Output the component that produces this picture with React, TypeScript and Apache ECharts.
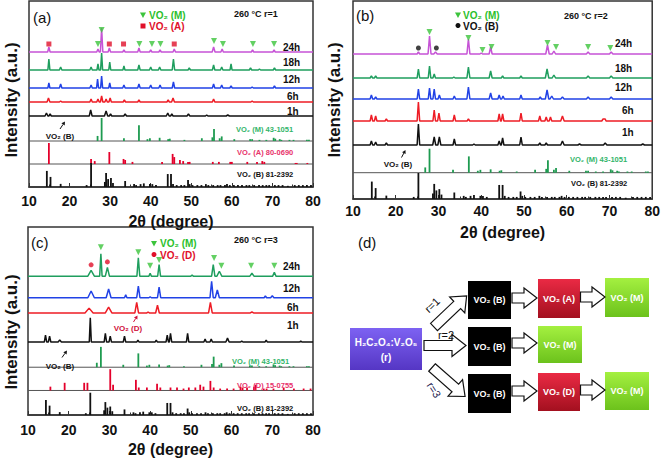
import React, { useEffect, useRef } from "react";
import * as echarts from "echarts";

type Peak = [number, number, number]; // [2θ, height, half-width]
type Stick = [number, number]; // [2θ, relative intensity %]

const X_MIN = 10;
const X_MAX = 80;
const X_STEP = 10;

// ---------- Panel (a): 260 °C r=1 ----------
const A_24H: Peak[] = [[14.9,5,0.3],[27.0,3,0.3],[27.9,24,0.3],[29.8,4,0.3],[33.4,2,0.3],[37.1,4,0.3],[40.0,2,0.3],[42.3,2,0.3],[45.8,3,0.3],[55.5,5,0.35],[57.6,3,0.3],[65.1,2,0.3],[70.4,2,0.3]];
const A_18H: Peak[] = [[14.9,11,0.25],[17.8,3,0.3],[25.3,3,0.3],[27.0,6,0.25],[27.9,17,0.25],[29.9,8,0.25],[33.4,4,0.25],[37.1,5,0.3],[40.0,3,0.3],[42.2,3,0.3],[45.6,11,0.3],[49.5,2,0.3],[55.5,5,0.3],[57.5,3,0.3],[59.8,6,0.25],[64.6,2,0.3],[66.8,1,0.3],[70.5,2,0.3]];
const A_12H: Peak[] = [[14.9,5,0.25],[17.8,4,0.3],[25.3,3,0.3],[26.9,9,0.25],[27.9,12,0.25],[29.9,5,0.25],[33.4,3,0.3],[37.1,4,0.3],[40.0,3,0.3],[42.3,3,0.3],[45.6,6,0.3],[55.5,4,0.3],[57.5,3,0.3],[59.8,2,0.3],[65.0,1,0.3],[70.5,2,0.3]];
const A_6H: Peak[] = [[14.8,4,0.35],[17.8,1,0.3],[25.3,3,0.3],[27.0,3,0.3],[27.9,6,0.3],[29.0,3,0.3],[30.0,4,0.3],[33.5,2,0.3],[37.1,2,0.3],[44.3,2,0.3],[45.5,4,0.35],[55.5,3,0.3],[65.0,1,0.3]];
const A_1H: Peak[] = [[14.3,3,0.35],[15.2,2,0.3],[25.2,6,0.35],[29.0,5,0.4],[30.1,2,0.3],[33.7,2,0.35],[44.2,3,0.35],[45.2,2,0.3],[49.3,2,0.35],[53.8,1,0.3],[59.0,1,0.4]];
const A_MARK_M: number[][] = [[27.0,143],[27.9,157],[37.2,143],[40.3,143],[42.4,143],[55.6,146],[57.8,143],[65.2,143],[70.4,143]];
const A_MARK_A: number[][] = [[14.9,143],[29.8,143],[33.3,143],[45.8,143]];

// ---------- Panel (b): 260 °C r=2 ----------
const B_24H: Peak[] = [[25.3,2,0.3],[27.9,18,0.35],[29.3,2,0.4],[37.0,15,0.35],[40.0,1,0.3],[42.2,7,0.35],[55.5,9,0.4],[57.0,3,0.4],[65.0,2,0.4],[70.4,2,0.4]];
const B_18H: Peak[] = [[14.3,2,0.3],[15.3,2,0.3],[25.3,9,0.3],[27.9,12,0.3],[29.0,4,0.3],[33.6,1,0.3],[37.0,11,0.35],[42.2,7,0.35],[45.0,2,0.3],[49.3,2,0.3],[55.4,9,0.4],[57.0,3,0.4],[65.0,2,0.4],[70.4,2,0.4]];
const B_12H: Peak[] = [[14.3,4,0.3],[15.3,2,0.3],[25.3,10,0.3],[27.9,11,0.3],[29.0,10,0.3],[30.2,4,0.3],[33.7,3,0.3],[37.0,12,0.35],[42.2,6,0.35],[44.2,4,0.3],[45.1,3,0.3],[49.3,4,0.3],[53.8,2,0.3],[55.4,9,0.4],[56.5,3,0.4],[59.0,2,0.4],[65.0,2,0.4],[70.4,2,0.4]];
const B_6H: Peak[] = [[14.3,6,0.3],[15.3,5,0.3],[17.8,2,0.3],[25.3,19,0.3],[29.0,11,0.3],[30.1,8,0.3],[33.7,6,0.3],[37.0,2,0.3],[44.2,7,0.3],[45.0,7,0.3],[49.3,8,0.3],[53.7,5,0.3],[55.2,4,0.3],[56.2,4,0.3],[59.0,5,0.4],[68.5,2,0.3],[69.0,2,0.2]];
const B_1H: Peak[] = [[14.3,4,0.3],[15.3,3,0.3],[17.8,2,0.3],[25.3,21,0.3],[29.0,8,0.35],[30.2,8,0.35],[33.7,6,0.3],[38.3,1,0.3],[44.2,4,0.3],[45.0,7,0.3],[49.3,8,0.3],[53.7,2,0.3],[55.2,2,0.3],[59.0,4,0.4],[63.0,1,0.4],[69.0,2,0.4],[77.8,1,0.4]];
const B_MARK_M: number[][] = [[27.9,167],[37.0,161],[40.3,149],[42.4,152],[55.5,156],[57.5,152],[65.0,152],[70.2,151]];
const B_MARK_B: number[][] = [[25.3,151],[29.5,151]];

// ---------- Panel (c): 260 °C r=3 ----------
const C_24H: Peak[] = [[25.5,6,0.8],[27.9,23,0.3],[29.5,9,0.5],[37.1,19,0.35],[40.0,3,0.3],[42.2,12,0.35],[50.3,1,0.3],[55.5,12,0.4],[57.0,5,0.6],[65.0,3,0.5],[70.5,4,0.4]];
const C_12H: Peak[] = [[25.5,7,0.8],[29.8,9,0.6],[34.0,3,0.3],[37.1,12,0.4],[40.0,1,0.3],[42.2,11,0.4],[55.1,17,0.4],[56.5,8,0.5],[68.3,2,0.3],[70.0,2,0.4]];
const C_6H: Peak[] = [[25.0,5,1.0],[29.8,6,0.8],[36.7,11,0.45],[39.5,1,0.3],[41.8,8,0.45],[54.8,11,0.45],[65.0,1,0.4]];
const C_1H: Peak[] = [[14.3,7,0.3],[15.3,6,0.3],[17.8,2,0.4],[25.3,25,0.25],[29.0,9,0.3],[30.2,6,0.3],[33.7,6,0.3],[37.0,2,0.3],[41.5,2,0.3],[44.2,7,0.3],[45.0,9,0.3],[49.2,9,0.3],[53.5,3,0.3],[55.0,3,0.3],[59.0,4,0.4],[62.5,1,0.3],[68.5,2,0.3],[77.0,1,0.3]];
const C_MARK_M: number[][] = [[27.9,173],[37.1,168],[40.0,154],[42.2,160],[55.7,162],[57.5,154],[64.8,154],[70.5,154]];
const C_MARK_D: number[][] = [[25.5,155],[29.5,158]];

// ---------- Reference cards ----------
const M_CARD: Stick[] = [[26.9,22],[27.9,100],[33.4,12],[37.1,68],[39.2,8],[39.8,12],[42.2,14],[44.3,8],[44.7,10],[48.3,5],[52.6,12],[55.2,16],[55.6,52],[57.0,12],[57.5,20],[60.6,8],[64.5,8],[65.0,8],[66.8,5],[68.5,5],[70.3,14],[70.7,10],[71.8,8],[72.2,5],[74.2,5],[75.2,5],[78.5,5],[79.0,5]];
const A_CARD: Stick[] = [[14.9,100],[25.3,24],[26.2,14],[29.8,57],[33.3,24],[33.7,19],[35.5,10],[42.8,10],[45.4,48],[45.8,33],[47.2,19],[48.0,14],[49.2,10],[49.6,10],[55.3,10],[56.8,10],[59.6,10],[60.0,10],[63.8,10],[66.2,10],[67.5,14],[68.0,10],[75.7,5],[76.0,5],[78.6,5]];
const B_CARD: Stick[] = [[14.4,67],[15.3,42],[17.8,13],[24.2,8],[25.3,100],[28.7,21],[29.0,58],[29.5,33],[30.2,38],[30.7,17],[33.7,25],[35.9,12],[36.4,8],[37.5,12],[38.3,15],[39.8,12],[40.4,12],[41.3,8],[44.2,54],[45.0,54],[45.5,12],[46.4,8],[47.5,8],[48.3,8],[49.2,29],[49.6,12],[50.3,8],[51.5,8],[52.5,8],[53.6,12],[54.2,8],[55.4,8],[56.5,8],[57.2,8],[58.3,8],[58.8,12],[59.5,8],[60.5,8],[61.5,8],[62.5,8],[63.6,8],[64.3,8],[65.5,8],[66.7,8],[67.6,8],[68.5,8],[69.2,8],[70.6,8],[71.5,8],[72.5,8],[73.8,5],[75.5,8],[76.5,8],[77.5,8],[78.5,8],[79.5,8]];
const D_CARD: Stick[] = [[15.5,18],[19.0,36],[23.8,36],[24.6,36],[30.2,100],[30.9,27],[36.5,50],[37.2,14],[39.2,14],[41.7,32],[42.5,14],[45.0,14],[46.6,14],[48.2,9],[49.5,14],[51.1,14],[52.3,27],[53.1,18],[54.8,45],[55.6,14],[57.2,9],[58.9,9],[60.5,9],[62.2,18],[62.7,14],[63.8,14],[65.5,18],[65.9,27],[67.9,9],[68.6,9],[70.3,9],[72.8,14],[75.3,9],[77.7,9],[79.4,9]];

// ---------- styles ----------
const FONT = "Liberation Sans, Arial, sans-serif";
const C_MAG = "#c653d6";
const C_GRN = "#1f9e5e";
const C_BLU = "#2142e6";
const C_RED = "#ee1c25";
const C_BLK = "#111111";
const REF_GREEN = "#1e9b50";
const REF_RED = "#e4002b";
const TRI_GREEN = "#3cc43c";
const LEG_GREEN = "#2cbf2c";
const LEG_RED = "#e0102a";
const LBL_GREEN = "#33b56a";
const LBL_RED = "#e8336b";

function profile(peaks: Peak[], base: number): number[][] {
  const pts: number[][] = [[X_MIN, base]];
  const s = [...peaks].sort((p, q) => p[0] - q[0]);
  let joined = false;
  s.forEach((pk, i) => {
    const [pos, h, w] = pk;
    const last = pts[pts.length - 1][0];
    if (!joined && pos - w > last) pts.push([pos - w, base]);
    pts.push([pos, base + h]);
    const nx = s[i + 1];
    if (!nx || pos + w < nx[0] - nx[2]) {
      pts.push([pos + w, base]);
      joined = false;
    } else joined = true;
  });
  pts.push([X_MAX, base]);
  return pts;
}

type PanelCfg = {
  grid: { left: number; top: number; width: number; height: number };
  patterns: { peaks: Peak[]; base: number; color: string }[];
  cards: { card: Stick[]; base: number; scale: number; color: string }[];
  markers: { data: number[][]; symbol: string; rotate: number; size: number; color: string }[];
  nameGap: number;
  labelMargin: number;
};

const PANELS: PanelCfg[] = [
  {
    grid: { left: 29, top: 1, width: 284, height: 186 },
    patterns: [
      { peaks: A_24H, base: 135, color: C_MAG },
      { peaks: A_18H, base: 117, color: C_GRN },
      { peaks: A_12H, base: 99, color: C_BLU },
      { peaks: A_6H, base: 85, color: C_RED },
      { peaks: A_1H, base: 71, color: C_BLK },
    ],
    cards: [
      { card: M_CARD, base: 46, scale: 23, color: REF_GREEN },
      { card: A_CARD, base: 23, scale: 21, color: REF_RED },
      { card: B_CARD, base: 0, scale: 24, color: C_BLK },
    ],
    markers: [
      { data: A_MARK_M, symbol: "triangle", rotate: 180, size: 6, color: TRI_GREEN },
      { data: A_MARK_A, symbol: "rect", rotate: 0, size: 5, color: LEG_RED },
    ],
    nameGap: 26,
    labelMargin: 7,
  },
  {
    grid: { left: 353, top: 1, width: 301, height: 198 },
    patterns: [
      { peaks: B_24H, base: 145, color: C_MAG },
      { peaks: B_18H, base: 121, color: C_GRN },
      { peaks: B_12H, base: 100, color: C_BLU },
      { peaks: B_6H, base: 78, color: C_RED },
      { peaks: B_1H, base: 54, color: C_BLK },
    ],
    cards: [
      { card: M_CARD, base: 26.3, scale: 24, color: REF_GREEN },
      { card: B_CARD, base: 0, scale: 26, color: C_BLK },
    ],
    markers: [
      { data: B_MARK_M, symbol: "triangle", rotate: 180, size: 6, color: TRI_GREEN },
      { data: B_MARK_B, symbol: "circle", rotate: 0, size: 5, color: C_BLK },
    ],
    nameGap: 25,
    labelMargin: 5,
  },
  {
    grid: { left: 28, top: 227, width: 285, height: 194 },
    patterns: [
      { peaks: C_24H, base: 143.3, color: C_GRN },
      { peaks: C_12H, base: 121, color: C_BLU },
      { peaks: C_6H, base: 105.3, color: C_RED },
      { peaks: C_1H, base: 75.3, color: C_BLK },
    ],
    cards: [
      { card: M_CARD, base: 49.3, scale: 21, color: REF_GREEN },
      { card: D_CARD, base: 25.3, scale: 22, color: REF_RED },
      { card: B_CARD, base: 0, scale: 23, color: C_BLK },
    ],
    markers: [
      { data: C_MARK_M, symbol: "triangle", rotate: 180, size: 6, color: TRI_GREEN },
      { data: C_MARK_D, symbol: "circle", rotate: 0, size: 5, color: LEG_RED },
    ],
    nameGap: 26,
    labelMargin: 8,
  },
];

function txt(x: number, y: number, text: string, opt: any = {}): any {
  const size = opt.size ?? 9;
  const weight = opt.weight ?? "bold";
  const align = opt.align ?? "left";
  return {
    type: "text",
    x,
    y,
    rotation: opt.rotation ?? 0,
    z: 100,
    style: {
      text,
      fill: opt.color ?? "#111",
      font: `${weight} ${size}px ${FONT}`,
      align,
      verticalAlign: "middle",
      textAlign: align,
      textVerticalAlign: "middle",
    },
  };
}

function arrowPts(L: number, s: number, hh: number, hl: number): number[][] {
  return [[0, -s], [L - hl, -s], [L - hl, -hh], [L, 0], [L - hl, hh], [L - hl, s], [0, s]];
}

function blockArrow(x: number, y: number, L: number, rot: number, s = 5, hh = 10, hl = 13): any {
  return {
    type: "polygon",
    x,
    y,
    rotation: rot,
    z: 50,
    shape: { points: arrowPts(L, s, hh, hl) },
    style: { fill: "#ffffff", stroke: "#111", lineWidth: 1.2 },
  };
}

function thinArrow(x1: number, y1: number, x2: number, y2: number, color = "#111"): any[] {
  const a = Math.atan2(y2 - y1, x2 - x1);
  const hl = 3.5, hw = 2;
  const bx = x2 - hl * Math.cos(a), by = y2 - hl * Math.sin(a);
  return [
    { type: "line", z: 100, shape: { x1, y1, x2: bx, y2: by }, style: { stroke: color, lineWidth: 1 } },
    {
      type: "polygon", z: 100,
      shape: { points: [[x2, y2], [bx + hw * Math.sin(a), by - hw * Math.cos(a)], [bx - hw * Math.sin(a), by + hw * Math.cos(a)]] },
      style: { fill: color },
    },
  ];
}

function grad(c1: string, c2: string): any {
  return new echarts.graphic.LinearGradient(0, 0, 0, 1, [
    { offset: 0, color: c1 },
    { offset: 1, color: c2 },
  ]);
}

function box(x: number, y: number, w: number, h: number, fill: any, label: string, size = 9): any[] {
  return [
    { type: "rect", z: 40, shape: { x, y, width: w, height: h }, style: { fill } },
    txt(x + w / 2, y + h / 2, label, { color: "#fff", size, align: "center" }),
  ];
}

function legendTri(x: number, y: number): any {
  return {
    type: "polygon", z: 100,
    shape: { points: [[x - 3, y - 2.5], [x + 3, y - 2.5], [x, y + 3]] },
    style: { fill: TRI_GREEN },
  };
}

function buildGraphics(): any[] {
  const g: any[] = [];
  const big = { size: 17, align: "center", rotation: Math.PI / 2 };
  // ----- panel a -----
  g.push(txt(33, 17, "(a)", { size: 15, weight: "normal" }));
  g.push(legendTri(143, 15));
  g.push(txt(149, 15, "VO₂ (M)", { size: 10, color: LEG_GREEN }));
  g.push({ type: "rect", z: 100, shape: { x: 140.5, y: 23.5, width: 5, height: 5 }, style: { fill: LEG_RED } });
  g.push(txt(149, 26, "VO₂ (A)", { size: 10, color: LEG_RED }));
  g.push(txt(234, 14, "260 °C r=1", { size: 9 }));
  g.push(txt(283, 47, "24h", { size: 10 }));
  g.push(txt(283, 62, "18h", { size: 10 }));
  g.push(txt(283, 79, "12h", { size: 10 }));
  g.push(txt(287, 96, "6h", { size: 10 }));
  g.push(txt(287, 111, "1h", { size: 10 }));
  g.push(txt(236, 129, "VO₂ (M) 43-1051", { size: 7.5, color: LBL_GREEN }));
  g.push(txt(237, 152, "VO₂ (A) 80-0690", { size: 7.5, color: LBL_RED }));
  g.push(txt(237, 174, "VO₂ (B) 81-2392", { size: 7.5 }));
  g.push(txt(60, 136, "VO₂ (B)", { size: 8, align: "center" }));
  g.push(...thinArrow(60, 129, 65, 121.5));
  g.push(txt(11, 100, "Intensity (a.u.)", big));
  // ----- panel b -----
  g.push(txt(356, 15, "(b)", { size: 15, weight: "normal" }));
  g.push(legendTri(458, 15));
  g.push(txt(463, 15, "VO₂ (M)", { size: 10, color: LEG_GREEN }));
  g.push({ type: "circle", z: 100, shape: { cx: 458, cy: 25.5, r: 2.5 }, style: { fill: "#111" } });
  g.push(txt(463, 26, "VO₂ (B)", { size: 10 }));
  g.push(txt(564, 16, "260 °C r=2", { size: 9 }));
  g.push(txt(615, 43, "24h", { size: 10 }));
  g.push(txt(615, 68, "18h", { size: 10 }));
  g.push(txt(615, 87, "12h", { size: 10 }));
  g.push(txt(622, 110, "6h", { size: 10 }));
  g.push(txt(622, 132, "1h", { size: 10 }));
  g.push(txt(570, 159, "VO₂ (M) 43-1051", { size: 7.5, color: LBL_GREEN }));
  g.push(txt(571, 183, "VO₂ (B) 81-2392", { size: 7.5 }));
  g.push(txt(398, 164, "VO₂ (B)", { size: 8, align: "center" }));
  g.push(...thinArrow(401.5, 157.5, 405.5, 150));
  g.push(txt(334, 100, "Intensity (a.u.)", big));
  // ----- panel c -----
  g.push(txt(31, 242, "(c)", { size: 15, weight: "normal" }));
  g.push(legendTri(154, 243.5));
  g.push(txt(160, 243.5, "VO₂ (M)", { size: 10, color: LEG_GREEN }));
  g.push({ type: "circle", z: 100, shape: { cx: 154, cy: 254.5, r: 2.5 }, style: { fill: LEG_RED } });
  g.push(txt(160, 255, "VO₂ (D)", { size: 10, color: LEG_RED }));
  g.push(txt(234, 240, "260 °C r=3", { size: 9 }));
  g.push(txt(283, 266, "24h", { size: 10 }));
  g.push(txt(283, 288, "12h", { size: 10 }));
  g.push(txt(287, 307, "6h", { size: 10 }));
  g.push(txt(287, 325, "1h", { size: 10 }));
  g.push(txt(232, 361, "VO₂ (M) 43-1051", { size: 7.5, color: LBL_GREEN }));
  g.push(txt(237, 385, "VO₂ (D) 15-0755", { size: 7.5, color: LBL_RED }));
  g.push(txt(237, 408, "VO₂ (B) 81-2392", { size: 7.5 }));
  g.push(txt(60, 366.5, "VO₂ (B)", { size: 8, align: "center" }));
  g.push(...thinArrow(62, 357.5, 67, 350.5));
  g.push(txt(128, 328.5, "VO₂ (D)", { size: 8, align: "center", color: "#d0103a" }));
  g.push(...thinArrow(133.5, 322, 137.5, 315.5, "#d0103a"));
  g.push(txt(11, 332, "Intensity (a.u.)", big));
  // ----- panel d -----
  const PURPLE = grad("#7d62f2", "#5536c4");
  const REDB = grad("#ea2a44", "#a3101f");
  const GREENB = grad("#a4f040", "#6cc21c");
  g.push(txt(358, 242, "(d)", { size: 15, weight: "normal" }));
  g.push({ type: "rect", z: 40, shape: { x: 350, y: 328, width: 72, height: 42 }, style: { fill: PURPLE } });
  g.push(txt(386, 342, "H₂C₂O₄:V₂O₅", { size: 10, color: "#fff", align: "center" }));
  g.push(txt(386, 357, "(r)", { size: 10, color: "#fff", align: "center" }));
  g.push(...box(468, 281, 43, 38, "#000", "VO₂ (B)"));
  g.push(...box(538, 279, 42, 39, REDB, "VO₂ (A)"));
  g.push(...box(605, 278, 44, 39, GREENB, "VO₂ (M)"));
  g.push(...box(468, 327, 43, 39, "#000", "VO₂ (B)"));
  g.push(...box(538, 326, 44, 37, GREENB, "VO₂ (M)"));
  g.push(...box(468, 374, 43, 39, "#000", "VO₂ (B)"));
  g.push(...box(538, 373, 42, 38, REDB, "VO₂ (D)"));
  g.push(...box(605, 372, 44, 38, GREENB, "VO₂ (M)"));
  g.push(blockArrow(512, 298, 25, 0));
  g.push(blockArrow(580.5, 297, 24.5, 0));
  g.push(blockArrow(512, 343, 25, 0));
  g.push(blockArrow(512, 391, 25, 0));
  g.push(blockArrow(580.5, 390, 24.5, 0));
  g.push(blockArrow(424, 345.5, 42, 0, 5, 11, 14));
  g.push(blockArrow(434, 327, 45, 0.76, 5, 11, 13));
  g.push(blockArrow(432, 367.5, 44, -0.72, 5, 11, 13));
  g.push(txt(432, 305, "r=1", { size: 11, weight: "normal", align: "center", rotation: 0.76 }));
  g.push(txt(446, 334.5, "r=2", { size: 11, weight: "normal", align: "center" }));
  g.push(txt(434, 390, "r=3", { size: 11, weight: "normal", align: "center", rotation: -1.0, color: "#1a1a50" }));
  return g;
}

function buildOption(): any {
  const grid: any[] = [];
  const xAxis: any[] = [];
  const yAxis: any[] = [];
  const series: any[] = [];
  PANELS.forEach((p, i) => {
    grid.push({ ...p.grid, show: true, borderColor: "#333", borderWidth: 1.5, backgroundColor: "transparent" });
    xAxis.push({
      gridIndex: i,
      type: "value",
      min: X_MIN,
      max: X_MAX,
      interval: X_STEP,
      axisLine: { show: true, lineStyle: { color: "#333", width: 1.5 } },
      axisTick: { show: true, inside: true, length: 4, lineStyle: { color: "#333", width: 1 } },
      minorTick: { show: true, splitNumber: 2, length: 2.5, lineStyle: { color: "#333" } },
      splitLine: { show: false },
      axisLabel: { fontSize: 14, fontWeight: "bold", color: "#111", margin: p.labelMargin, fontFamily: FONT },
      name: "2θ (degree)",
      nameLocation: "middle",
      nameGap: p.nameGap,
      nameTextStyle: { fontSize: 16, fontWeight: "bold", color: "#111", fontFamily: FONT },
    });
    yAxis.push({ gridIndex: i, type: "value", min: 0, max: p.grid.height, show: false });
    p.patterns.forEach((pt) => {
      series.push({
        type: "line",
        xAxisIndex: i,
        yAxisIndex: i,
        data: profile(pt.peaks, pt.base),
        showSymbol: false,
        symbol: "none",
        lineStyle: { color: pt.color, width: 1.5 },
        z: 3,
      });
    });
    p.cards.forEach((cd) => {
      const color = cd.color;
      series.push({
        type: "custom",
        xAxisIndex: i,
        yAxisIndex: i,
        encode: { x: 0, y: 2 },
        data: cd.card.map(([pos, rel]) => [pos, cd.base, cd.base + (rel / 100) * cd.scale]),
        renderItem: (params: any, api: any) => {
          const x = api.value(0);
          const p0 = api.coord([x, api.value(1)]);
          const p1 = api.coord([x, api.value(2)]);
          return {
            type: "rect",
            shape: { x: p0[0] - 0.9, y: p1[1], width: 1.8, height: Math.max(p0[1] - p1[1], 0.8) },
            style: { fill: color },
          };
        },
        z: 3,
      });
      if (cd.base > 0) {
        series.push({
          type: "line",
          xAxisIndex: i,
          yAxisIndex: i,
          data: [[X_MIN, cd.base], [X_MAX, cd.base]],
          showSymbol: false,
          symbol: "none",
          lineStyle: { color: "#555", width: 1 },
          z: 2,
        });
      }
    });
    p.markers.forEach((m) => {
      series.push({
        type: "scatter",
        xAxisIndex: i,
        yAxisIndex: i,
        data: m.data,
        symbol: m.symbol,
        symbolRotate: m.rotate,
        symbolSize: m.size,
        itemStyle: { color: m.color },
        z: 5,
      });
    });
  });
  return {
    animation: false,
    backgroundColor: "#ffffff",
    textStyle: { fontFamily: FONT },
    grid,
    xAxis,
    yAxis,
    series,
    graphic: buildGraphics(),
  };
}

export default function App() {
  const ref = useRef<HTMLDivElement>(null);
  useEffect(() => {
    if (!ref.current) return;
    const chart = echarts.init(ref.current, undefined, { renderer: "svg" });
    chart.setOption(buildOption());
    return () => chart.dispose();
  }, []);
  return (
    <div
      ref={ref}
      style={{ position: "absolute", left: 0, top: 0, width: 663, height: 458, background: "#fff" }}
    />
  );
}
